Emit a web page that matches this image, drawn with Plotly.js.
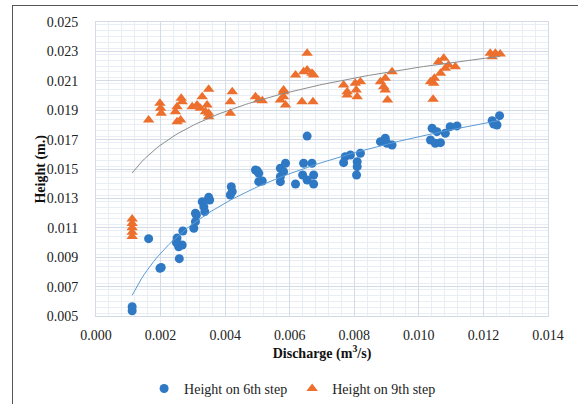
<!DOCTYPE html>
<html>
<head>
<meta charset="utf-8">
<script src="https://cdn.plot.ly/plotly-3.0.1.min.js"></script>
<style>
html,body{margin:0;padding:0;background:#fff;overflow:hidden;}
#chart{width:578px;height:404px;}
#frame{position:absolute;left:12px;top:5px;width:700px;height:600px;border:1.5px solid #555;pointer-events:none;}
</style>
</head>
<body>
<div id="chart"></div>
<div id="frame"></div>
<script>
// Height on 6th step
const q6 = [0.00112,0.00112,0.00163,0.00198,0.00202,0.00258,0.00251,0.00256,0.00267,0.00269,0.00249,
  0.00303,0.00308,0.00311,0.00308,0.00329,0.00334,0.00337,0.00349,0.00352,
  0.00419,0.00422,0.00416,0.00499,0.00504,0.00494,0.00504,0.00515,
  0.00571,0.00587,0.00571,0.00581,0.00571,0.00654,0.00643,0.00669,0.00640,0.00674,0.00654,0.00674,0.00618,
  0.00772,0.00788,0.00819,0.00767,0.00809,0.00809,0.00807,
  0.00881,0.00896,0.00917,0.00901,
  0.01041,0.01056,0.01036,0.01051,0.01067,0.01082,0.01097,0.01118,
  0.01227,0.01250,0.01242,0.01232];
const h6 = [0.00563,0.00536,0.01026,0.00824,0.00830,0.00890,0.01030,0.00971,0.00983,0.01078,0.01000,
  0.01097,0.01142,0.01187,0.01199,0.01278,0.01244,0.01210,0.01307,0.01289,
  0.01380,0.01346,0.01323,0.01488,0.01414,0.01493,0.01471,0.01418,
  0.01505,0.01539,0.01448,0.01482,0.01414,0.01724,0.01539,0.01539,0.01459,0.01459,0.01425,0.01398,0.01398,
  0.01584,0.01595,0.01607,0.01543,0.01550,0.01516,0.01459,
  0.01686,0.01709,0.01663,0.01675,
  0.01777,0.01754,0.01697,0.01675,0.01679,0.01743,0.01788,0.01793,
  0.01829,0.01863,0.01799,0.01806];
// Height on 9th step
const q9 = [0.00112,0.00112,0.00112,0.00112,0.00112,
  0.00163,0.00198,0.00200,0.00202,0.00251,0.00246,0.00264,0.00267,0.00251,0.00262,
  0.00298,0.00313,0.00329,0.00349,0.00323,0.00344,0.00349,0.00349,0.00339,
  0.00422,0.00416,0.00416,0.00494,0.00504,0.00515,
  0.00581,0.00571,0.00587,0.00581,0.00581,
  0.00654,0.00618,0.00643,0.00654,0.00669,0.00674,0.00638,0.00672,
  0.00767,0.00778,0.00778,0.00803,0.00806,0.00809,0.00819,
  0.00881,0.00896,0.00891,0.00896,0.00917,0.00903,
  0.01036,0.01048,0.01046,0.01044,0.01061,0.01077,0.01067,0.01082,0.01092,0.01113,
  0.01221,0.01237,0.01252,0.01227];
const h9 = [0.01040,0.01070,0.01100,0.01130,0.01160,
  0.01833,0.01947,0.01913,0.01879,0.01924,0.01890,0.01981,0.01958,0.01822,0.01833,
  0.01924,0.01935,0.01992,0.02042,0.01913,0.01935,0.01856,0.01879,0.01890,
  0.02026,0.01958,0.01879,0.01992,0.01969,0.01965,
  0.02037,0.01969,0.01935,0.01992,0.02026,
  0.02287,0.02139,0.02162,0.02173,0.02151,0.02139,0.01958,0.01958,
  0.02071,0.02026,0.02003,0.02083,0.02037,0.01992,0.02094,
  0.02094,0.02117,0.02060,0.02037,0.02162,0.01969,
  0.02094,0.02117,0.02083,0.01974,0.02230,0.02253,0.02151,0.02185,0.02208,0.02196,
  0.02287,0.02287,0.02282,0.02264];

const xTicks = [0.000,0.002,0.004,0.006,0.008,0.010,0.012,0.014];
const yTicks = [0.005,0.007,0.009,0.011,0.013,0.015,0.017,0.019,0.021,0.023,0.025];
const names = ['Height on 6th step','Height on 9th step'];

// Logarithmic trendline (least squares on ln x), as Excel does
function logFit(xs, ys){
  const n = xs.length; let sx=0, sy=0, sxx=0, sxy=0;
  for(let i=0;i<n;i++){const lx=Math.log(xs[i]); sx+=lx; sy+=ys[i]; sxx+=lx*lx; sxy+=lx*ys[i];}
  const b=(n*sxy-sx*sy)/(n*sxx-sx*sx); const a=(sy-b*sx)/n;
  const x0=Math.min(...xs), x1=Math.max(...xs); const tx=[], ty=[];
  for(let i=0;i<=120;i++){const x=x0+(x1-x0)*i/120; tx.push(x); ty.push(a+b*Math.log(x));}
  return {x:tx,y:ty};
}
const f6 = logFit(q6,h6), f9 = logFit(q9,h9);

const serif = 'Liberation Serif';
const tf = {family:serif,size:14,color:'#222'};
const traces = [
  {x:q6,y:h6,type:'scatter',mode:'markers',name:names[0],
   marker:{symbol:'circle',size:9,color:'#2e78c4'}},
  {x:q9,y:h9,type:'scatter',mode:'markers',name:names[1],
   marker:{symbol:'triangle-up',size:10,color:'#ed6f2d'}},
  {x:f6.x,y:f6.y,type:'scatter',mode:'lines',showlegend:false,hoverinfo:'skip',
   line:{color:'#5b9bd5',width:1}},
  {x:f9.x,y:f9.y,type:'scatter',mode:'lines',showlegend:false,hoverinfo:'skip',
   line:{color:'#8c8c8c',width:1}}
];
const layout = {
  width:578,height:404,
  margin:{l:95.5,r:30,t:22,b:88,autoexpand:false},
  paper_bgcolor:'#fff',plot_bgcolor:'#fff',
  font:tf,
  showlegend:true,
  legend:{orientation:'h',x:0.435,xanchor:'center',y:-0.248,yanchor:'middle',
    font:tf,itemwidth:20,tracegroupgap:0},
  xaxis:{range:[0,0.014],tickvals:xTicks,tickformat:'.3f',tickfont:tf,automargin:false,
    showgrid:true,gridcolor:'#d3dce6',gridwidth:1,
    minor:{dtick:0.0004,showgrid:true,gridcolor:'#e9eef4',gridwidth:1},
    zeroline:false,showline:true,linecolor:'#d3dce6',mirror:true,
    ticks:'outside',ticklen:6,tickcolor:'rgba(0,0,0,0)',
    title:{text:'<b>Discharge (m<sup>3</sup>/s)</b>',font:{family:serif,size:14,color:'#111'},standoff:6}},
  yaxis:{range:[0.005,0.025],tickvals:yTicks,tickformat:'.3f',tickfont:tf,automargin:false,
    showgrid:true,gridcolor:'#d3dce6',gridwidth:1,
    minor:{dtick:0.0004,showgrid:true,gridcolor:'#e9eef4',gridwidth:1},
    zeroline:false,showline:true,linecolor:'#d3dce6',mirror:true,
    ticks:'outside',ticklen:14,tickcolor:'rgba(0,0,0,0)'},
  annotations:[{text:'<b>Height (m.)</b>',xref:'paper',yref:'paper',x:-0.1227,y:0.5,
    xanchor:'center',yanchor:'middle',textangle:-90,showarrow:false,
    font:{family:serif,size:14,color:'#111'}}]
};
Plotly.newPlot('chart',traces,layout,{displayModeBar:false,staticPlot:true});
</script>
</body>
</html>
